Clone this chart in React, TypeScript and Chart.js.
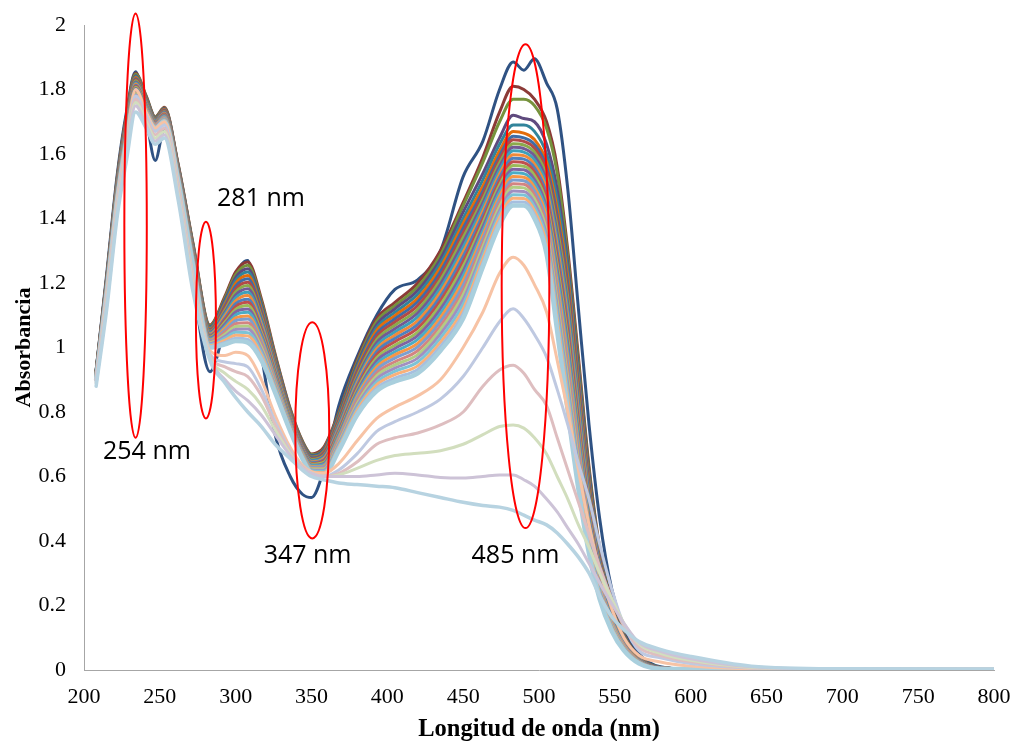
import { useEffect, useRef } from 'react';
import { Chart, registerables } from 'chart.js';

Chart.register(...registerables);

// Wavelength grid (nm) shared by every spectrum
const wavelengths = [208, 215, 222, 228, 234, 241, 247, 253, 262, 272, 283, 293, 300, 308, 317, 326, 336, 344, 350, 358, 368, 380, 393, 405, 420, 435, 450, 463, 474, 483, 490, 497, 505, 512, 519, 526, 533, 540, 548, 556, 566, 580, 600, 640, 700, 800];

// First spectrum (dark blue)
const firstSpectrum = [0.93, 1.23, 1.54, 1.73, 1.855, 1.71, 1.58, 1.68, 1.55, 1.20, 0.925, 1.07, 1.22, 1.27, 0.98, 0.73, 0.60, 0.545, 0.535, 0.62, 0.82, 0.97, 1.10, 1.18, 1.21, 1.30, 1.53, 1.64, 1.80, 1.885, 1.86, 1.895, 1.82, 1.74, 1.49, 1.12, 0.76, 0.47, 0.25, 0.13, 0.05, 0.01, 0.003, 0.003, 0.003, 0.003];

// Titration band: one row per wavelength, 25 spectra from top to bottom
const titrationRows = [
  [0.930, 0.929, 0.928, 0.926, 0.925, 0.924, 0.923, 0.921, 0.920, 0.919, 0.918, 0.916, 0.915, 0.914, 0.913, 0.911, 0.910, 0.909, 0.908, 0.906, 0.905, 0.904, 0.903, 0.901, 0.900],
  [1.220, 1.218, 1.216, 1.214, 1.212, 1.210, 1.208, 1.205, 1.203, 1.201, 1.199, 1.197, 1.195, 1.193, 1.191, 1.189, 1.187, 1.185, 1.183, 1.180, 1.178, 1.176, 1.174, 1.172, 1.170],
  [1.530, 1.527, 1.524, 1.521, 1.518, 1.515, 1.512, 1.510, 1.507, 1.504, 1.501, 1.498, 1.495, 1.492, 1.489, 1.486, 1.483, 1.480, 1.477, 1.475, 1.472, 1.469, 1.466, 1.463, 1.460],
  [1.720, 1.717, 1.713, 1.710, 1.707, 1.703, 1.700, 1.697, 1.693, 1.690, 1.687, 1.683, 1.680, 1.677, 1.673, 1.670, 1.667, 1.663, 1.660, 1.657, 1.653, 1.650, 1.647, 1.643, 1.640],
  [1.850, 1.847, 1.843, 1.840, 1.837, 1.833, 1.830, 1.827, 1.823, 1.820, 1.817, 1.813, 1.810, 1.807, 1.803, 1.800, 1.797, 1.793, 1.790, 1.787, 1.783, 1.780, 1.777, 1.773, 1.770],
  [1.780, 1.778, 1.775, 1.773, 1.770, 1.768, 1.765, 1.763, 1.760, 1.758, 1.755, 1.753, 1.750, 1.748, 1.745, 1.743, 1.740, 1.738, 1.735, 1.733, 1.730, 1.728, 1.725, 1.723, 1.720],
  [1.715, 1.714, 1.712, 1.711, 1.709, 1.708, 1.706, 1.705, 1.703, 1.702, 1.700, 1.699, 1.698, 1.696, 1.695, 1.693, 1.692, 1.690, 1.689, 1.687, 1.686, 1.684, 1.683, 1.681, 1.680],
  [1.745, 1.743, 1.741, 1.739, 1.738, 1.736, 1.734, 1.732, 1.730, 1.728, 1.726, 1.724, 1.723, 1.721, 1.719, 1.717, 1.715, 1.713, 1.711, 1.709, 1.708, 1.706, 1.704, 1.702, 1.700],
  [1.570, 1.568, 1.566, 1.564, 1.562, 1.560, 1.558, 1.555, 1.553, 1.551, 1.549, 1.547, 1.545, 1.543, 1.541, 1.539, 1.537, 1.535, 1.533, 1.530, 1.528, 1.526, 1.524, 1.522, 1.520],
  [1.320, 1.317, 1.314, 1.311, 1.308, 1.305, 1.302, 1.300, 1.297, 1.294, 1.291, 1.288, 1.285, 1.282, 1.279, 1.276, 1.273, 1.270, 1.267, 1.265, 1.262, 1.259, 1.256, 1.253, 1.250],
  [1.070, 1.067, 1.064, 1.061, 1.058, 1.055, 1.052, 1.050, 1.047, 1.044, 1.041, 1.038, 1.035, 1.032, 1.029, 1.026, 1.023, 1.020, 1.017, 1.015, 1.012, 1.009, 1.006, 1.003, 1.000],
  [1.160, 1.154, 1.148, 1.141, 1.135, 1.129, 1.123, 1.116, 1.110, 1.104, 1.098, 1.091, 1.085, 1.079, 1.073, 1.066, 1.060, 1.054, 1.048, 1.041, 1.035, 1.029, 1.023, 1.016, 1.010],
  [1.235, 1.226, 1.217, 1.208, 1.199, 1.190, 1.181, 1.172, 1.163, 1.154, 1.145, 1.136, 1.127, 1.118, 1.110, 1.101, 1.092, 1.083, 1.074, 1.065, 1.056, 1.047, 1.038, 1.029, 1.020],
  [1.265, 1.255, 1.244, 1.234, 1.223, 1.213, 1.202, 1.192, 1.182, 1.171, 1.161, 1.150, 1.140, 1.130, 1.119, 1.109, 1.098, 1.088, 1.077, 1.067, 1.057, 1.046, 1.036, 1.025, 1.015],
  [1.150, 1.142, 1.134, 1.126, 1.118, 1.110, 1.102, 1.095, 1.087, 1.079, 1.071, 1.063, 1.055, 1.047, 1.039, 1.031, 1.023, 1.015, 1.007, 1.000, 0.992, 0.984, 0.976, 0.968, 0.960],
  [0.980, 0.975, 0.970, 0.965, 0.960, 0.955, 0.950, 0.945, 0.940, 0.935, 0.930, 0.925, 0.920, 0.915, 0.910, 0.905, 0.900, 0.895, 0.890, 0.885, 0.880, 0.875, 0.870, 0.865, 0.860],
  [0.810, 0.807, 0.804, 0.801, 0.798, 0.795, 0.792, 0.790, 0.787, 0.784, 0.781, 0.778, 0.775, 0.772, 0.769, 0.766, 0.763, 0.760, 0.757, 0.755, 0.752, 0.749, 0.746, 0.743, 0.740],
  [0.710, 0.708, 0.705, 0.703, 0.701, 0.699, 0.696, 0.694, 0.692, 0.689, 0.687, 0.685, 0.683, 0.680, 0.678, 0.676, 0.673, 0.671, 0.669, 0.667, 0.664, 0.662, 0.660, 0.657, 0.655],
  [0.670, 0.668, 0.665, 0.663, 0.660, 0.658, 0.655, 0.653, 0.650, 0.648, 0.645, 0.643, 0.640, 0.638, 0.635, 0.633, 0.630, 0.628, 0.625, 0.623, 0.620, 0.618, 0.615, 0.613, 0.610],
  [0.690, 0.686, 0.683, 0.679, 0.676, 0.672, 0.669, 0.665, 0.662, 0.658, 0.655, 0.651, 0.648, 0.644, 0.640, 0.637, 0.633, 0.630, 0.626, 0.623, 0.619, 0.616, 0.612, 0.609, 0.605],
  [0.800, 0.795, 0.790, 0.785, 0.780, 0.775, 0.770, 0.765, 0.760, 0.755, 0.750, 0.745, 0.740, 0.735, 0.730, 0.725, 0.720, 0.715, 0.710, 0.705, 0.700, 0.695, 0.690, 0.685, 0.680],
  [0.960, 0.953, 0.946, 0.939, 0.932, 0.925, 0.918, 0.910, 0.903, 0.896, 0.889, 0.882, 0.875, 0.868, 0.861, 0.854, 0.847, 0.840, 0.833, 0.825, 0.818, 0.811, 0.804, 0.797, 0.790],
  [1.090, 1.081, 1.071, 1.062, 1.053, 1.043, 1.034, 1.024, 1.015, 1.006, 0.996, 0.987, 0.978, 0.968, 0.959, 0.949, 0.940, 0.931, 0.921, 0.912, 0.903, 0.893, 0.884, 0.874, 0.865],
  [1.140, 1.130, 1.120, 1.109, 1.099, 1.089, 1.079, 1.069, 1.058, 1.048, 1.038, 1.028, 1.018, 1.007, 0.997, 0.987, 0.977, 0.967, 0.956, 0.946, 0.936, 0.926, 0.916, 0.905, 0.895],
  [1.200, 1.188, 1.177, 1.165, 1.153, 1.142, 1.130, 1.118, 1.107, 1.095, 1.083, 1.072, 1.060, 1.048, 1.037, 1.025, 1.013, 1.002, 0.990, 0.978, 0.967, 0.955, 0.943, 0.932, 0.920],
  [1.300, 1.287, 1.274, 1.261, 1.248, 1.235, 1.222, 1.210, 1.197, 1.184, 1.171, 1.158, 1.145, 1.132, 1.119, 1.106, 1.093, 1.080, 1.067, 1.055, 1.042, 1.029, 1.016, 1.003, 0.990],
  [1.450, 1.440, 1.420, 1.400, 1.385, 1.370, 1.355, 1.341, 1.326, 1.311, 1.296, 1.282, 1.267, 1.252, 1.237, 1.223, 1.208, 1.193, 1.178, 1.164, 1.149, 1.134, 1.119, 1.105, 1.090],
  [1.590, 1.575, 1.540, 1.520, 1.500, 1.485, 1.473, 1.460, 1.448, 1.436, 1.423, 1.411, 1.398, 1.386, 1.374, 1.361, 1.349, 1.337, 1.324, 1.312, 1.299, 1.287, 1.275, 1.262, 1.250],
  [1.730, 1.700, 1.650, 1.630, 1.610, 1.595, 1.584, 1.572, 1.561, 1.550, 1.538, 1.527, 1.516, 1.504, 1.493, 1.482, 1.470, 1.459, 1.448, 1.437, 1.425, 1.414, 1.403, 1.391, 1.380],
  [1.810, 1.770, 1.720, 1.690, 1.670, 1.655, 1.644, 1.632, 1.621, 1.610, 1.598, 1.587, 1.576, 1.564, 1.553, 1.542, 1.530, 1.519, 1.508, 1.497, 1.485, 1.474, 1.463, 1.451, 1.440],
  [1.800, 1.770, 1.710, 1.690, 1.665, 1.650, 1.639, 1.628, 1.617, 1.606, 1.595, 1.584, 1.573, 1.562, 1.551, 1.539, 1.528, 1.517, 1.506, 1.495, 1.484, 1.473, 1.462, 1.451, 1.440],
  [1.770, 1.750, 1.700, 1.670, 1.645, 1.630, 1.618, 1.606, 1.594, 1.582, 1.569, 1.557, 1.545, 1.533, 1.521, 1.509, 1.497, 1.485, 1.473, 1.461, 1.448, 1.436, 1.424, 1.412, 1.400],
  [1.700, 1.680, 1.630, 1.600, 1.575, 1.560, 1.546, 1.532, 1.517, 1.503, 1.489, 1.475, 1.461, 1.446, 1.432, 1.418, 1.404, 1.390, 1.375, 1.361, 1.347, 1.333, 1.319, 1.304, 1.290],
  [1.560, 1.540, 1.490, 1.460, 1.430, 1.410, 1.391, 1.372, 1.353, 1.334, 1.315, 1.296, 1.277, 1.258, 1.239, 1.221, 1.202, 1.183, 1.164, 1.145, 1.126, 1.107, 1.088, 1.069, 1.050],
  [1.300, 1.279, 1.258, 1.238, 1.217, 1.196, 1.175, 1.154, 1.133, 1.113, 1.092, 1.071, 1.050, 1.029, 1.008, 0.988, 0.967, 0.946, 0.925, 0.904, 0.883, 0.863, 0.842, 0.821, 0.800],
  [0.970, 0.953, 0.936, 0.919, 0.902, 0.885, 0.868, 0.850, 0.833, 0.816, 0.799, 0.782, 0.765, 0.748, 0.731, 0.714, 0.697, 0.680, 0.663, 0.646, 0.628, 0.611, 0.594, 0.577, 0.560],
  [0.630, 0.619, 0.608, 0.596, 0.585, 0.574, 0.563, 0.551, 0.540, 0.529, 0.518, 0.506, 0.495, 0.484, 0.473, 0.461, 0.450, 0.439, 0.428, 0.416, 0.405, 0.394, 0.383, 0.371, 0.360],
  [0.380, 0.373, 0.367, 0.360, 0.353, 0.347, 0.340, 0.333, 0.327, 0.320, 0.313, 0.307, 0.300, 0.293, 0.287, 0.280, 0.273, 0.267, 0.260, 0.253, 0.247, 0.240, 0.233, 0.227, 0.220],
  [0.210, 0.206, 0.203, 0.199, 0.195, 0.191, 0.188, 0.184, 0.180, 0.176, 0.173, 0.169, 0.165, 0.161, 0.158, 0.154, 0.150, 0.146, 0.143, 0.139, 0.135, 0.131, 0.128, 0.124, 0.120],
  [0.110, 0.108, 0.106, 0.104, 0.102, 0.100, 0.098, 0.095, 0.093, 0.091, 0.089, 0.087, 0.085, 0.083, 0.081, 0.079, 0.077, 0.075, 0.073, 0.070, 0.068, 0.066, 0.064, 0.062, 0.060],
  [0.040, 0.039, 0.038, 0.038, 0.037, 0.036, 0.035, 0.034, 0.033, 0.033, 0.032, 0.031, 0.030, 0.029, 0.028, 0.028, 0.027, 0.026, 0.025, 0.024, 0.023, 0.023, 0.022, 0.021, 0.020],
  [0.008, 0.008, 0.008, 0.008, 0.007, 0.007, 0.007, 0.007, 0.007, 0.006, 0.006, 0.006, 0.006, 0.006, 0.006, 0.005, 0.005, 0.005, 0.005, 0.005, 0.004, 0.004, 0.004, 0.004, 0.004],
  [0.003, 0.003, 0.003, 0.003, 0.003, 0.003, 0.003, 0.003, 0.003, 0.003, 0.003, 0.003, 0.003, 0.003, 0.003, 0.003, 0.003, 0.003, 0.003, 0.003, 0.003, 0.003, 0.003, 0.003, 0.003],
  [0.002, 0.002, 0.002, 0.002, 0.002, 0.002, 0.002, 0.002, 0.002, 0.002, 0.002, 0.002, 0.002, 0.002, 0.002, 0.002, 0.002, 0.002, 0.002, 0.002, 0.002, 0.002, 0.002, 0.002, 0.002],
  [0.002, 0.002, 0.002, 0.002, 0.002, 0.002, 0.002, 0.002, 0.002, 0.002, 0.002, 0.002, 0.002, 0.002, 0.002, 0.002, 0.002, 0.002, 0.002, 0.002, 0.002, 0.002, 0.002, 0.002, 0.002],
  [0.002, 0.002, 0.002, 0.002, 0.002, 0.002, 0.002, 0.002, 0.002, 0.002, 0.002, 0.002, 0.002, 0.002, 0.002, 0.002, 0.002, 0.002, 0.002, 0.002, 0.002, 0.002, 0.002, 0.002, 0.002],
];

// Last six spectra (pale curves)
const spectrumPeach = [0.90, 1.17, 1.46, 1.64, 1.80, 1.73, 1.68, 1.70, 1.51, 1.22, 0.99, 0.975, 0.985, 0.975, 0.90, 0.79, 0.69, 0.635, 0.615, 0.61, 0.64, 0.71, 0.78, 0.815, 0.85, 0.90, 1.00, 1.11, 1.23, 1.28, 1.255, 1.195, 1.11, 0.96, 0.80, 0.62, 0.45, 0.31, 0.19, 0.10, 0.045, 0.025, 0.012, 0.004, 0.003, 0.003];
const spectrumPeriwinkle = [0.90, 1.16, 1.45, 1.63, 1.78, 1.72, 1.67, 1.69, 1.50, 1.21, 0.98, 0.955, 0.95, 0.94, 0.87, 0.77, 0.68, 0.63, 0.61, 0.60, 0.62, 0.67, 0.74, 0.77, 0.80, 0.84, 0.91, 1.00, 1.08, 1.12, 1.09, 1.04, 0.97, 0.87, 0.76, 0.64, 0.53, 0.39, 0.25, 0.14, 0.06, 0.038, 0.02, 0.006, 0.003, 0.003];
const spectrumRose = [0.90, 1.15, 1.44, 1.62, 1.77, 1.71, 1.66, 1.68, 1.49, 1.20, 0.975, 0.94, 0.925, 0.91, 0.85, 0.76, 0.675, 0.63, 0.61, 0.60, 0.61, 0.645, 0.70, 0.72, 0.735, 0.76, 0.80, 0.88, 0.93, 0.945, 0.92, 0.87, 0.82, 0.72, 0.62, 0.52, 0.42, 0.32, 0.22, 0.135, 0.07, 0.045, 0.026, 0.007, 0.003, 0.003];
const spectrumSage = [0.89, 1.14, 1.43, 1.61, 1.76, 1.70, 1.65, 1.67, 1.48, 1.19, 0.97, 0.92, 0.895, 0.87, 0.82, 0.745, 0.67, 0.625, 0.61, 0.60, 0.605, 0.625, 0.65, 0.665, 0.672, 0.68, 0.70, 0.73, 0.755, 0.76, 0.75, 0.72, 0.67, 0.60, 0.53, 0.45, 0.38, 0.30, 0.22, 0.145, 0.08, 0.052, 0.03, 0.008, 0.003, 0.003];
const spectrumLavender = [0.89, 1.13, 1.42, 1.60, 1.75, 1.69, 1.64, 1.66, 1.47, 1.18, 0.965, 0.90, 0.865, 0.835, 0.79, 0.73, 0.665, 0.625, 0.61, 0.60, 0.60, 0.60, 0.605, 0.61, 0.605, 0.597, 0.595, 0.60, 0.605, 0.605, 0.59, 0.57, 0.53, 0.49, 0.44, 0.39, 0.33, 0.27, 0.205, 0.145, 0.085, 0.058, 0.035, 0.01, 0.003, 0.003];
const spectrumIce = [0.88, 1.12, 1.41, 1.58, 1.73, 1.68, 1.63, 1.65, 1.46, 1.17, 0.96, 0.89, 0.845, 0.80, 0.755, 0.70, 0.655, 0.62, 0.60, 0.59, 0.58, 0.575, 0.57, 0.565, 0.55, 0.535, 0.52, 0.51, 0.505, 0.495, 0.48, 0.465, 0.45, 0.425, 0.39, 0.35, 0.30, 0.23, 0.165, 0.125, 0.088, 0.064, 0.042, 0.012, 0.004, 0.003];

// Axis ticks
const xTicks = [200, 250, 300, 350, 400, 450, 500, 550, 600, 650, 700, 750, 800];
const xTickLabels = ['200', '250', '300', '350', '400', '450', '500', '550', '600', '650', '700', '750', '800'];
const yTicks = [0, 0.2, 0.4, 0.6, 0.8, 1, 1.2, 1.4, 1.6, 1.8, 2];
const yTickLabels = ['0', '0.2', '0.4', '0.6', '0.8', '1', '1.2', '1.4', '1.6', '1.8', '2'];

// Annotations (data units)
const markerLabels = ['254 nm', '281 nm', '347 nm', '485 nm'];
const markerLabelNm = [241.5, 316.7, 347.4, 484.5];
const markerLabelAbs = [0.654, 1.439, 0.332, 0.332];
const ellipseCenterNm = [234.0, 280.4, 350.5, 491.1];
const ellipseCenterAbs = [1.378, 1.085, 0.743, 1.19];
const ellipseHalfWidthNm = [7.4, 6.6, 11.2, 15.7];
const ellipseHalfHeightAbs = [0.658, 0.305, 0.335, 0.75];

// Styles
const firstColor = '#2F5283';
const bandColors = [
  '#8C3A37', '#76923C', '#5F4A7E', '#31849B', '#E46C0A',
  '#3F6CA6', '#B24A47', '#8BAA4C', '#735A94', '#3EA0BA',
  '#F08A3A', '#4F81BD', '#C0504D', '#9BBB59', '#8064A2',
  '#4BACC6', '#F79646', '#7C9FCF', '#D38482', '#B3CD84',
  '#A18FC0', '#7CC3D6', '#F9B07A', '#A6BFDF', '#A9CFDD',
];
const paleColors = ['#F7C3A5', '#BFC9E1', '#DEBEC0', '#D2DEBE', '#CDC3D7', '#B7D3E1'];

const markerPlugin = {
  id: 'markers',
  afterDraw(chart: any) {
    const { ctx, scales } = chart;
    const xs = scales.x;
    const ys = scales.y;
    ctx.save();
    ctx.strokeStyle = '#FF0000';
    ctx.lineWidth = 2;
    for (let i = 0; i < ellipseCenterNm.length; i++) {
      const cx = xs.getPixelForValue(ellipseCenterNm[i]);
      const rx = Math.abs(xs.getPixelForValue(ellipseCenterNm[i] + ellipseHalfWidthNm[i]) - cx);
      const cy = ys.getPixelForValue(ellipseCenterAbs[i]);
      const ry = Math.abs(ys.getPixelForValue(ellipseCenterAbs[i] + ellipseHalfHeightAbs[i]) - cy);
      ctx.beginPath();
      ctx.ellipse(cx, cy, rx, ry, 0, 0, Math.PI * 2);
      ctx.stroke();
    }
    ctx.fillStyle = '#000000';
    ctx.font = '25px "Open Sans", "Noto Sans", sans-serif';
    ctx.textAlign = 'center';
    ctx.textBaseline = 'alphabetic';
    for (let i = 0; i < markerLabels.length; i++) {
      ctx.fillText(markerLabels[i], xs.getPixelForValue(markerLabelNm[i]), ys.getPixelForValue(markerLabelAbs[i]));
    }
    ctx.restore();
  },
};

export default function App() {
  const canvasRef = useRef<HTMLCanvasElement | null>(null);

  useEffect(() => {
    if (!canvasRef.current) return;
    const datasets: any[] = [];
    const addLine = (values: number[], color: string, width: number) => {
      datasets.push({
        data: wavelengths.map((w, i) => ({ x: w, y: values[i] })),
        borderColor: color,
        backgroundColor: color,
        borderWidth: width,
        pointRadius: 0,
        pointHoverRadius: 0,
        fill: false,
        cubicInterpolationMode: 'monotone',
        borderJoinStyle: 'round',
        borderCapStyle: 'round',
        order: -datasets.length,
      });
    };
    addLine(firstSpectrum, firstColor, 3);
    for (let k = 0; k < bandColors.length; k++) {
      addLine(titrationRows.map((row) => row[k]), bandColors[k], k === bandColors.length - 1 ? 4.5 : 3);
    }
    const pale = [spectrumPeach, spectrumPeriwinkle, spectrumRose, spectrumSage, spectrumLavender, spectrumIce];
    pale.forEach((s, i) => addLine(s, paleColors[i], i === pale.length - 1 ? 3.5 : 3));

    const serif = 'Liberation Serif, "Times New Roman", serif';
    const chart = new Chart(canvasRef.current, {
      type: 'line',
      data: { datasets },
      plugins: [markerPlugin],
      options: {
        animation: false,
        responsive: false,
        maintainAspectRatio: false,
        layout: { padding: { left: 0, right: 19, top: 25, bottom: 0 } },
        plugins: { legend: { display: false }, tooltip: { enabled: false } },
        events: [],
        scales: {
          x: {
            type: 'linear',
            min: 200,
            max: 800,
            afterBuildTicks: (s: any) => { s.ticks = xTicks.map((v) => ({ value: v })); },
            afterFit: (s: any) => { s.height = 71; s.paddingLeft = 0; s.paddingRight = 0; },
            ticks: {
              callback: (_v: any, i: number) => xTickLabels[i],
              font: { family: serif, size: 22 },
              color: '#000000',
              padding: 14,
              maxRotation: 0,
              autoSkip: false,
            },
            grid: { display: false, drawTicks: false },
            border: { display: true, color: '#A6A6A6', width: 1 },
            title: {
              display: true,
              text: 'Longitud de onda (nm)',
              font: { family: serif, size: 24.5, weight: 'bold' },
              color: '#000000',
              padding: { top: 0, bottom: -3 },
            },
          },
          y: {
            type: 'linear',
            min: 0,
            max: 2,
            afterBuildTicks: (s: any) => { s.ticks = yTicks.map((v) => ({ value: v })); },
            afterFit: (s: any) => { s.width = 84; s.paddingTop = 0; s.paddingBottom = 0; },
            ticks: {
              callback: (_v: any, i: number) => yTickLabels[i],
              font: { family: serif, size: 22 },
              color: '#000000',
              padding: 18,
              autoSkip: false,
            },
            grid: { display: false, drawTicks: false },
            border: { display: true, color: '#A6A6A6', width: 1 },
            title: {
              display: true,
              text: 'Absorbancia',
              font: { family: serif, size: 22, weight: 'bold' },
              color: '#000000',
              padding: { top: 11, bottom: 0 },
            },
          },
        },
      },
    } as any);
    return () => chart.destroy();
  }, []);

  return (
    <div style={{ position: 'fixed', left: 0, top: 0, width: 1013, height: 741, background: '#ffffff' }}>
      <canvas ref={canvasRef} width={1013} height={741} style={{ display: 'block', width: 1013, height: 741 }} />
    </div>
  );
}
